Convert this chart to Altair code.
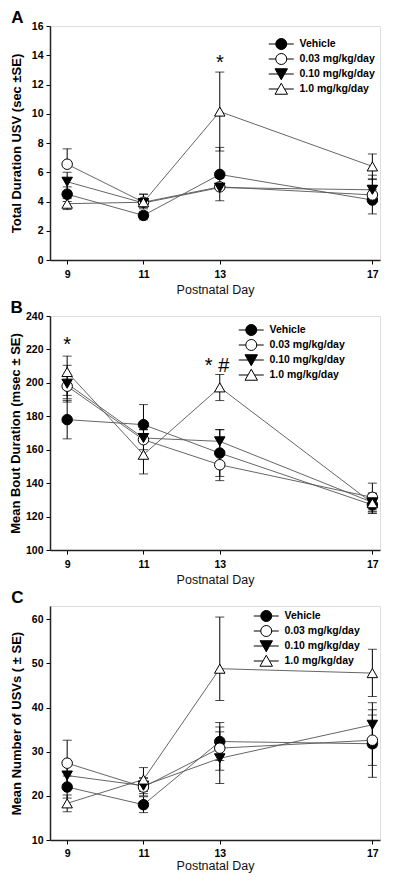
import altair as alt
import pandas as pd

days = [9, 11, 13, 17]
groups = ["Vehicle", "0.03 mg/kg/day", "0.10 mg/kg/day", "1.0 mg/kg/day"]

# ---- Panel A: Total Duration USV (sec) ----
A_VEH = [4.5, 3.05, 5.85, 4.1]
A_VEH_LO = [4.0, 2.75, 5.85, 3.15]
A_VEH_HI = [5.0, 3.3, 7.7, 5.1]
A_003 = [6.55, 3.95, 5.0, 4.45]
A_003_LO = [6.55, 3.6, 5.0, 4.45]
A_003_HI = [7.6, 4.5, 5.6, 5.55]
A_010 = [5.35, 3.9, 4.95, 4.8]
A_010_LO = [4.7, 3.5, 4.05, 4.8]
A_010_HI = [6.0, 3.9, 4.95, 5.8]
A_10 = [3.85, 3.95, 10.15, 6.4]
A_10_LO = [3.45, 3.95, 7.45, 5.5]
A_10_HI = [4.2, 4.5, 12.85, 7.25]

# ---- Panel B: Mean Bout Duration (msec) ----
B_VEH = [178, 175, 158, 127]
B_VEH_LO = [166.5, 175, 144, 124]
B_VEH_HI = [189.5, 187, 172, 130]
B_003 = [198, 166, 151, 131.5]
B_003_LO = [190.5, 160, 141.5, 123]
B_003_HI = [198, 172, 151, 140]
B_010 = [199.5, 167, 165, 128.5]
B_010_LO = [188.5, 167, 158, 122]
B_010_HI = [210.5, 172, 172, 134]
B_10 = [206.5, 157, 197.3, 128]
B_10_LO = [192.5, 145.5, 189.4, 122]
B_10_HI = [216, 168, 205, 134]

# ---- Panel C: Mean Number of USVs ----
C_VEH = [22.0, 18.0, 32.3, 31.8]
C_VEH_LO = [19.5, 16.2, 28.0, 24.2]
C_VEH_HI = [24.5, 19.8, 36.6, 39.5]
C_003 = [27.4, 22.0, 30.8, 32.6]
C_003_LO = [22.2, 20.0, 25.8, 26.9]
C_003_HI = [32.6, 24.0, 35.6, 38.3]
C_010 = [24.6, 22.3, 28.5, 36.1]
C_010_LO = [22.0, 20.5, 22.8, 31.0]
C_010_HI = [27.2, 24.1, 34.5, 41.1]
C_10 = [18.3, 23.7, 48.8, 47.8]
C_10_LO = [16.4, 21.0, 41.6, 42.5]
C_10_HI = [20.2, 26.4, 60.5, 53.2]

# significance annotations
A_ANN_X = [13]
A_ANN_Y = [13.45]
A_ANN_T = ["*"]
B_ANN_X = [9, 12.93]
B_ANN_Y = [222.5, 210]
B_ANN_T = ["*", "* #"]

FONT = "Liberation Sans"
shape_points = ["circle", "circle", "triangle-down", "triangle-up"]
fills = ["black", "white", "black", "white"]
sizes = [110, 110, 135, 135]
legend_paths = [
    "M-2,0H-0.88M0.88,0H2M-0.88,0A0.88,0.88,0,1,0,0.88,0A0.88,0.88,0,1,0,-0.88,0Z",
    "M-2,0H-0.88M0.88,0H2M-0.88,0A0.88,0.88,0,1,0,0.88,0A0.88,0.88,0,1,0,-0.88,0Z",
    "M-2,0H-0.52M0.52,0H2M-1,-0.84L1,-0.84L0,0.92Z",
    "M-2,0H-0.52M0.52,0H2M-1,0.84L1,0.84L0,-0.92Z",
]
strokes = ["black", "black", "black", "black"]


def make_df(means, los, his):
    rows = []
    for g, m, lo, hi in zip(groups, means, los, his):
        for d, mv, lv, hv in zip(days, m, lo, hi):
            rows.append({"day": d, "grp": g, "mean": mv, "lo": lv, "hi": hv})
    return pd.DataFrame(rows)


def panel(letter, df, ann, ydomain, yvalues, ytitle, ytitlepad, legx, legy,
          xlabpad, xtitlepad, title_offset):
    xs = alt.Scale(domain=[8.55, 17.2], nice=False, zero=False)
    xa = alt.Axis(values=days, title="Postnatal Day", grid=False, tickSize=4,
                  labelFont=FONT, labelFontWeight="bold", labelFontSize=10.5,
                  labelColor="black", labelPadding=xlabpad, tickColor="black",
                  titleFont=FONT, titleFontWeight="normal", titleFontSize=12.5,
                  titleColor="#111", titlePadding=xtitlepad, domainColor="#222",
                  domainWidth=1.5, format="d")
    ys = alt.Scale(domain=ydomain, nice=False, zero=False)
    ya = alt.Axis(values=yvalues, title=ytitle, grid=False, tickSize=4,
                  labelFont=FONT, labelFontWeight="bold", labelFontSize=10.5,
                  labelColor="black", labelPadding=3, tickColor="black",
                  titleFont=FONT, titleFontWeight="bold", titleFontSize=13,
                  titleColor="black", titlePadding=ytitlepad,
                  domainColor="#222", domainWidth=1.5, format="d")
    X = alt.X("day:Q", scale=xs, axis=xa)

    base = alt.Chart(df)
    line = base.mark_line(color="#555", strokeWidth=0.9).encode(
        x=X, y=alt.Y("mean:Q", scale=ys, axis=ya), detail="grp:N",
        order="day:Q")
    err = base.mark_errorbar(color="black", thickness=1,
                             ticks={"size": 9, "thickness": 1}).encode(
        x=X, y=alt.Y("lo:Q", scale=ys, axis=ya), y2="hi:Q", detail="grp:N")
    pts = base.mark_point(filled=True, stroke="black", strokeWidth=1,
                          opacity=1).encode(
        x=X, y=alt.Y("mean:Q", scale=ys, axis=ya),
        shape=alt.Shape("grp:N", scale=alt.Scale(domain=groups, range=shape_points), legend=None),
        fill=alt.Fill("grp:N", scale=alt.Scale(domain=groups, range=fills), legend=None),
        size=alt.Size("grp:N", scale=alt.Scale(domain=groups, range=sizes), legend=None),
    )
    leg = alt.Legend(title=None, orient="none", legendX=legx, legendY=legy,
                     symbolSize=156, symbolStrokeColor="black",
                     symbolStrokeWidth=1, labelFont=FONT,
                     labelFontWeight="bold", labelFontSize=10.5,
                     labelColor="black", labelOffset=11.25, rowPadding=-1.5,
                     padding=0)
    legend_layer = base.transform_filter("datum.day < 0").mark_point(
        filled=True, strokeWidth=1, opacity=1).encode(
        x=X, y=alt.Y("mean:Q", scale=ys, axis=ya),
        shape=alt.Shape("grp:N", scale=alt.Scale(domain=groups, range=legend_paths), legend=leg),
        fill=alt.Fill("grp:N", scale=alt.Scale(domain=groups, range=fills), legend=leg),
        stroke=alt.Stroke("grp:N", scale=alt.Scale(domain=groups, range=strokes), legend=leg),
    )
    layers = [line, err, pts]
    if ann is not None:
        txt = alt.Chart(ann).mark_text(font=FONT, fontSize=20, color="black",
                                       baseline="middle").encode(
            x=X, y=alt.Y("val:Q", scale=ys, axis=ya), text="txt:N")
        layers.append(txt)
    layers.append(legend_layer)
    ch = alt.layer(*layers).resolve_scale(
        shape="independent", fill="independent", size="independent",
        stroke="independent"
    ).properties(
        width=330, height=234,
        title=alt.TitleParams(letter, anchor="start", frame="bounds",
                              font=FONT, fontSize=17, fontWeight="bold",
                              color="black", offset=title_offset, dx=1),
    )
    return ch


dfA = make_df([A_VEH, A_003, A_010, A_10], [A_VEH_LO, A_003_LO, A_010_LO, A_10_LO],
              [A_VEH_HI, A_003_HI, A_010_HI, A_10_HI])
dfB = make_df([B_VEH, B_003, B_010, B_10], [B_VEH_LO, B_003_LO, B_010_LO, B_10_LO],
              [B_VEH_HI, B_003_HI, B_010_HI, B_10_HI])
dfC = make_df([C_VEH, C_003, C_010, C_10], [C_VEH_LO, C_003_LO, C_010_LO, C_10_LO],
              [C_VEH_HI, C_003_HI, C_010_HI, C_10_HI])
annA = pd.DataFrame({"day": A_ANN_X, "val": A_ANN_Y, "txt": A_ANN_T})
annB = pd.DataFrame({"day": B_ANN_X, "val": B_ANN_Y, "txt": B_ANN_T})

pA = panel("A", dfA, annA, [0, 16], list(range(0, 17, 2)),
           "Total Duration USV (sec ±SE)", 8, 224.25, 11, 5, 4, -6)
pB = panel("B", dfB, annB, [100, 240], list(range(100, 241, 20)),
           "Mean Bout Duration (msec ± SE)", 3, 194.25, 7, 5, 4, -6)
pC = panel("C", dfC, None, [10, 63], list(range(10, 61, 10)),
           "Mean Number of USVs ( ± SE)", 8, 209.25, 3, 4, 1, -1)

chart = alt.vconcat(pA, pB, pC, spacing=1).properties(
    padding={"left": 0, "top": 0, "right": 4, "bottom": 0}
).configure_view(stroke="#222", strokeWidth=1.5).configure(background="white")

chart.save("out.html", embed_options={"renderer": "svg", "actions": False})
